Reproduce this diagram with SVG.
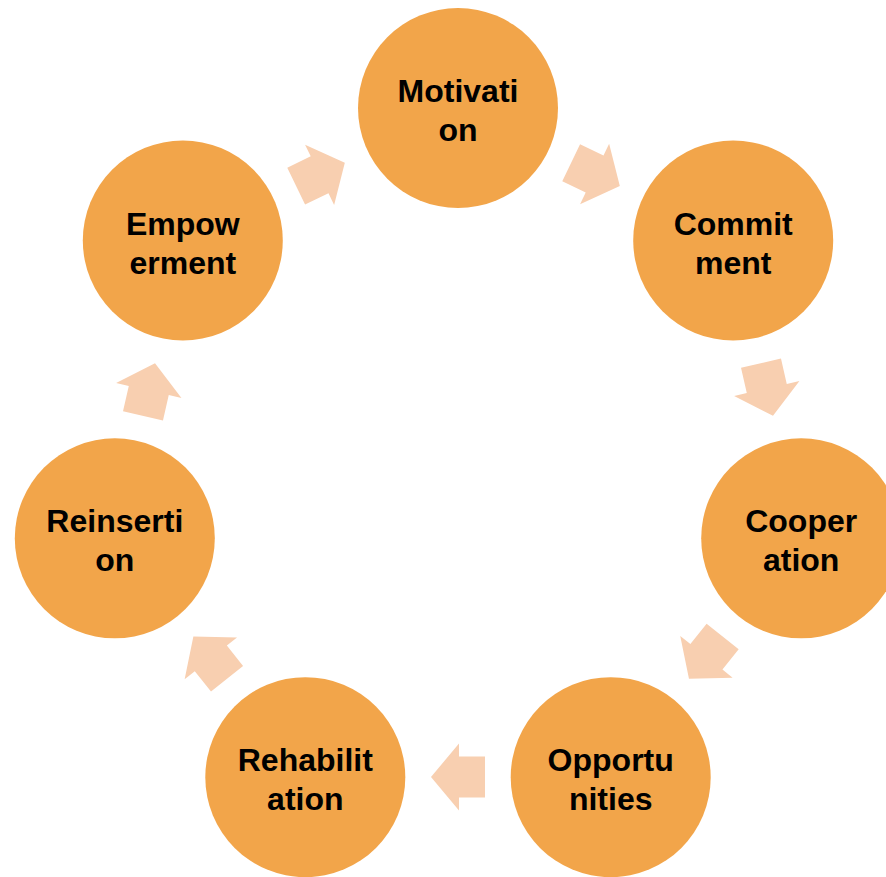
<svg xmlns="http://www.w3.org/2000/svg" width="886" height="877" viewBox="0 0 886 877">
<style>
.node circle{fill:#F2A54A;}
.node text{font-family:"Liberation Sans",Arial,sans-serif;font-weight:bold;font-size:32px;fill:#000;text-anchor:middle;}
.arr{fill:#F8CFB0;}
</style>
<defs>
<polygon id="arrow" class="arr" points="-27,-20.5 -1,-20.5 -1,-33.5 27,0 -1,33.5 -1,20.5 -27,20.5"/>
</defs>
<rect width="886" height="877" fill="#fff"/>
<g id="connectors">
<use href="#arrow" transform="translate(595.5,174.4) rotate(25.71)"/>
<use href="#arrow" transform="translate(767,389.5) rotate(77.14)"/>
<use href="#arrow" transform="translate(705.8,657.6) rotate(128.57)"/>
<use href="#arrow" transform="translate(458,777) rotate(180)"/>
<use href="#arrow" transform="translate(210.2,657.6) rotate(231.43)"/>
<use href="#arrow" transform="translate(149,389.5) rotate(282.86)"/>
<use href="#arrow" transform="translate(320.5,174.4) rotate(334.29)"/>
</g>
<g id="motivation" class="node"><circle cx="458" cy="108" r="100"/><text x="458" y="102">Motivati</text><text x="458" y="141">on</text></g>
<g id="commitment" class="node"><circle cx="733.2" cy="240.5" r="100"/><text x="733.2" y="234.5">Commit</text><text x="733.2" y="273.5">ment</text></g>
<g id="cooperation" class="node"><circle cx="801.2" cy="538.3" r="100"/><text x="801.2" y="532.3">Cooper</text><text x="801.2" y="571.3">ation</text></g>
<g id="opportunities" class="node"><circle cx="610.7" cy="777.2" r="100"/><text x="610.7" y="771.2">Opportu</text><text x="610.7" y="810.2">nities</text></g>
<g id="rehabilitation" class="node"><circle cx="305.3" cy="777.2" r="100"/><text x="305.3" y="771.2">Rehabilit</text><text x="305.3" y="810.2">ation</text></g>
<g id="reinsertion" class="node"><circle cx="114.8" cy="538.3" r="100"/><text x="114.8" y="532.3">Reinserti</text><text x="114.8" y="571.3">on</text></g>
<g id="empowerment" class="node"><circle cx="182.8" cy="240.5" r="100"/><text x="182.8" y="234.5">Empow</text><text x="182.8" y="273.5">erment</text></g>
</svg>
